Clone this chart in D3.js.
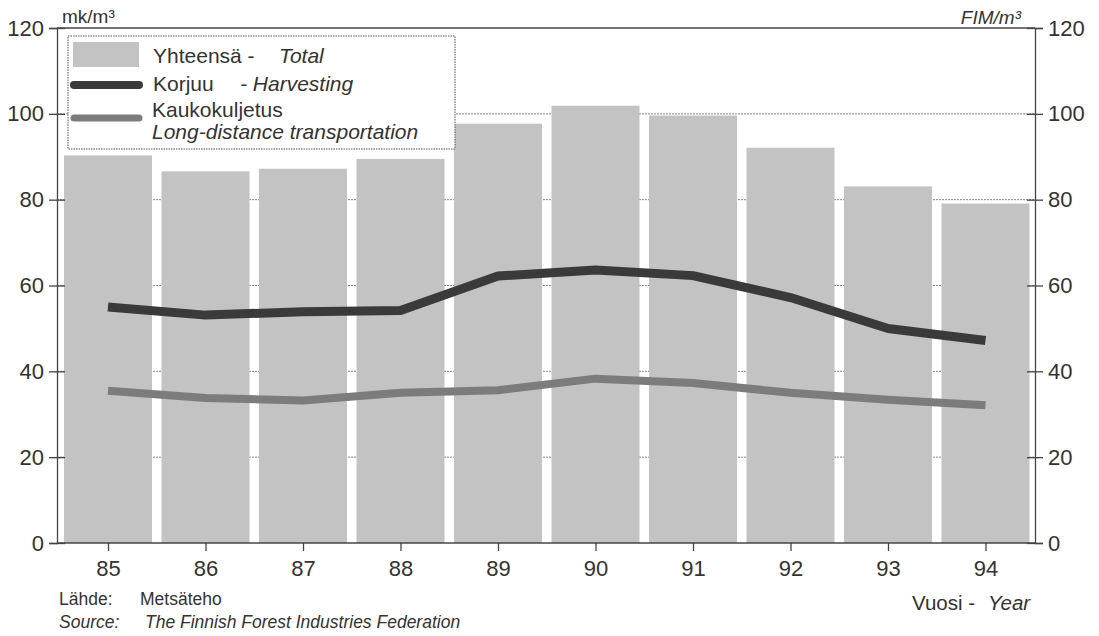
<!DOCTYPE html>
<html><head><meta charset="utf-8">
<script src="https://cdn.jsdelivr.net/npm/d3@7"></script>
<style>
body{margin:0;background:#fff;}
text{font-family:"Liberation Sans",Arial,sans-serif;fill:#333;}
</style></head>
<body>
<svg id="chart" width="1099" height="636"></svg>
<script>
const years = ["85","86","87","88","89","90","91","92","93","94"];
const total = [90.3, 86.6, 87.2, 89.5, 97.7, 101.9, 99.6, 92.1, 83.1, 79.1];
const harvesting = [55.0, 53.1, 53.9, 54.2, 62.2, 63.6, 62.3, 57.2, 50.0, 47.2];
const transport = [35.5, 33.8, 33.2, 35.0, 35.6, 38.3, 37.3, 35.0, 33.4, 32.1];
const yTicks = [0, 20, 40, 60, 80, 100, 120];

(function(){
const svg = d3.select("#chart");
const pL = 57, pR = 1035, pT = 28, pB = 543;
const y = d3.scaleLinear().domain([0, 120]).range([pB, pT]);
const x = d3.scalePoint().domain(years).range([108, 985.5]);
const barW = 88;

// gridlines (behind bars)
svg.append("g").selectAll("line").data(yTicks.filter(v => v > 0 && v < 120)).join("line")
  .attr("x1", pL).attr("x2", pR)
  .attr("y1", d => y(d)).attr("y2", d => y(d))
  .attr("stroke", "#888").attr("stroke-width", 1).attr("stroke-dasharray", "2,1");

// bars
svg.append("g").selectAll("rect").data(years).join("rect")
  .attr("x", (d) => x(d) - barW / 2)
  .attr("width", barW)
  .attr("y", (d, i) => y(total[i]))
  .attr("height", (d, i) => y(0) - y(total[i]))
  .attr("fill", "#c3c3c3");

// lines
const line = d3.line().x((d, i) => x(years[i])).y(d => y(d)).curve(d3.curveLinear);
svg.append("path").datum(transport).attr("d", line)
  .attr("fill", "none").attr("stroke", "#7c7c7c").attr("stroke-width", 8).attr("stroke-linejoin", "round");
svg.append("path").datum(harvesting).attr("d", line)
  .attr("fill", "none").attr("stroke", "#3a3a3a").attr("stroke-width", 9).attr("stroke-linejoin", "round");

// frame
const frame = svg.append("g").attr("stroke", "#444").attr("stroke-width", 1.3);
frame.append("line").attr("x1", pL).attr("x2", pR).attr("y1", pT).attr("y2", pT);
frame.append("line").attr("x1", pL).attr("x2", pR).attr("y1", pB).attr("y2", pB);

// axes
const gL = svg.append("g").attr("transform", `translate(${pL},0)`)
  .call(d3.axisLeft(y).tickValues(yTicks).tickSize(8).tickPadding(5));
const gR = svg.append("g").attr("transform", `translate(${pR},0)`)
  .call(d3.axisRight(y).tickValues(yTicks).tickSize(8).tickPadding(5));
const gX = svg.append("g").attr("transform", `translate(0,${pB})`)
  .call(d3.axisBottom(x).tickSize(8).tickPadding(9));
[gL, gR, gX].forEach(g => {
  g.select(".domain").attr("stroke", "#444").attr("stroke-width", 1.3);
  g.selectAll(".tick line").attr("stroke", "#444").attr("stroke-width", 1.3);
  g.selectAll(".tick text").attr("fill", "#333").style("font-size", "22px")
    .style("font-family", '"Liberation Sans",Arial,sans-serif');
});
gX.select(".domain").remove();
gL.selectAll(".tick line").attr("x1", 8);
gR.selectAll(".tick line").attr("x1", -8);

// unit labels
svg.append("text").attr("x", 62).attr("y", 23).style("font-size", "19px").text("mk/m³");
svg.append("text").attr("x", 1021).attr("y", 24).attr("text-anchor", "end")
  .style("font-size", "19px").style("font-style", "italic").text("FIM/m³");

// legend
const lg = svg.append("g");
lg.append("rect").attr("x", 68).attr("y", 36).attr("width", 387).attr("height", 113)
  .attr("fill", "#fff").attr("stroke", "#555").attr("stroke-width", 1).attr("stroke-dasharray", "1.5,1");
lg.append("rect").attr("x", 73).attr("y", 42).attr("width", 66).attr("height", 25).attr("fill", "#c3c3c3");
lg.append("line").attr("x1", 74).attr("x2", 139).attr("y1", 85).attr("y2", 85)
  .attr("stroke", "#3a3a3a").attr("stroke-width", 8).attr("stroke-linecap", "round");
lg.append("line").attr("x1", 74).attr("x2", 139).attr("y1", 118).attr("y2", 118)
  .attr("stroke", "#7c7c7c").attr("stroke-width", 7).attr("stroke-linecap", "round");
const lt = (xx, yy, s, it) => lg.append("text").attr("x", xx).attr("y", yy)
  .style("font-size", "21px").style("font-style", it ? "italic" : "normal").text(s);
lt(153, 63, "Yhteensä -", false);
lt(279, 63, "Total", true);
lt(153, 91, "Korjuu", false);
lt(240, 91, "- Harvesting", true);
lt(152, 117, "Kaukokuljetus", false);
lt(152, 139, "Long-distance transportation", true);

// footer
const ft = (xx, yy, s, it, size) => svg.append("text").attr("x", xx).attr("y", yy)
  .style("font-size", size + "px").style("font-style", it ? "italic" : "normal").text(s);
ft(59, 605, "Lähde:", false, 17.5);
ft(140, 605, "Metsäteho", false, 17.5);
ft(59, 628, "Source:", true, 17.5);
ft(145, 628, "The Finnish Forest Industries Federation", true, 17.5);
ft(912, 610, "Vuosi -", false, 20.5);
ft(988, 610, "Year", true, 20.5);
})();
</script>
</body></html>
